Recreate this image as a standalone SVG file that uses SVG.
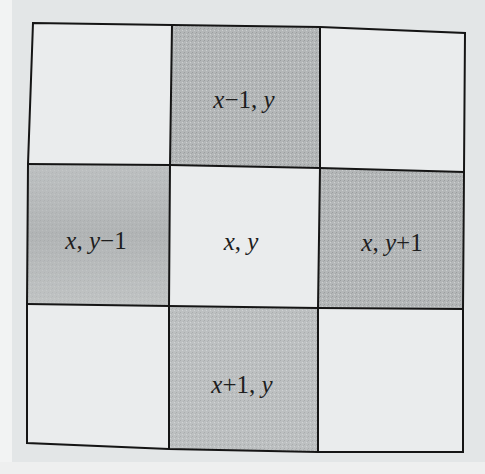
<svg xmlns="http://www.w3.org/2000/svg" width="485" height="474" viewBox="0 0 485 474">
<style>
.cell{stroke:none}
.white{fill:#eaeced}
.grid{fill:none;stroke:#151515;stroke-width:2;stroke-linejoin:miter}
.lbl{font-family:"Liberation Serif","DejaVu Serif",serif;font-size:25px;fill:#1e1e1e;text-anchor:middle}
.i{font-style:italic}
</style>
<defs>
<pattern id="grain" width="4" height="4" patternUnits="userSpaceOnUse">
<rect width="4" height="4" fill="#b4b7b8"/>
<rect x="0" y="0" width="1" height="1" fill="#9a9d9e"/>
<rect x="2" y="2" width="1" height="1" fill="#cdd0d0"/>
<rect x="3" y="1" width="1" height="1" fill="#a5a8a9"/>
</pattern>
<linearGradient id="lshade" x1="0" y1="0" x2="0" y2="1">
<stop offset="0" stop-color="#c2c5c6"/>
<stop offset="0.5" stop-color="#b0b3b4"/>
<stop offset="1" stop-color="#c8cbcb"/>
</linearGradient>
</defs>
<rect width="485" height="474" fill="#e3e6e7"/>
<rect x="0" y="0" width="12" height="474" fill="#f2f3f3"/>
<rect x="0" y="462" width="485" height="12" fill="#eeefef"/>
<g id="cells">
<polygon class="cell white" points="33,23 172,25 170,165 28,164"/>
<polygon class="cell white" points="320,27 465,33 464,172 320,168"/>
<polygon class="cell white" points="170,165 320,168 318,308 169,306"/>
<polygon class="cell white" points="27,304 169,306 169,449 27,443"/>
<polygon class="cell white" points="318,308 463,309 463,452 318,452"/>
</g>
<g id="n-top">
<polygon class="cell" fill="url(#grain)" points="172,25 320,27 320,168 170,165"/>
<text class="lbl" x="244" y="108"><tspan class="i">x</tspan>−1, <tspan class="i">y</tspan></text>
</g>
<g id="n-left">
<polygon class="cell" fill="url(#lshade)" points="28,164 170,165 169,306 27,304"/>
<polygon class="cell" fill="url(#grain)" opacity="0.35" points="28,164 170,165 169,306 27,304"/>
<text class="lbl" x="96" y="249"><tspan class="i">x</tspan>, <tspan class="i">y</tspan>−1</text>
</g>
<g id="n-center">
<text class="lbl" x="241" y="250"><tspan class="i">x</tspan>, <tspan class="i">y</tspan></text>
</g>
<g id="n-right">
<polygon class="cell" fill="url(#grain)" points="320,168 464,172 463,309 318,308"/>
<text class="lbl" x="392" y="251"><tspan class="i">x</tspan>, <tspan class="i">y</tspan>+1</text>
</g>
<g id="n-bottom">
<polygon class="cell" fill="url(#grain)" opacity="0.8" points="169,306 318,308 318,452 169,449"/>
<text class="lbl" x="242" y="393"><tspan class="i">x</tspan>+1, <tspan class="i">y</tspan></text>
</g>
<g id="connectors">
<path class="grid" d="M33,23 L172,25 L320,27 L465,33 L464,172 L463,309 L463,452 L318,452 L169,449 L27,443 L27,304 L28,164 Z"/>
<path class="grid" d="M172,25 L170,165 L169,306 L169,449"/>
<path class="grid" d="M320,27 L320,168 L318,308 L318,452"/>
<path class="grid" d="M28,164 L170,165 L320,168 L464,172"/>
<path class="grid" d="M27,304 L169,306 L318,308 L463,309"/>
</g>
</svg>
